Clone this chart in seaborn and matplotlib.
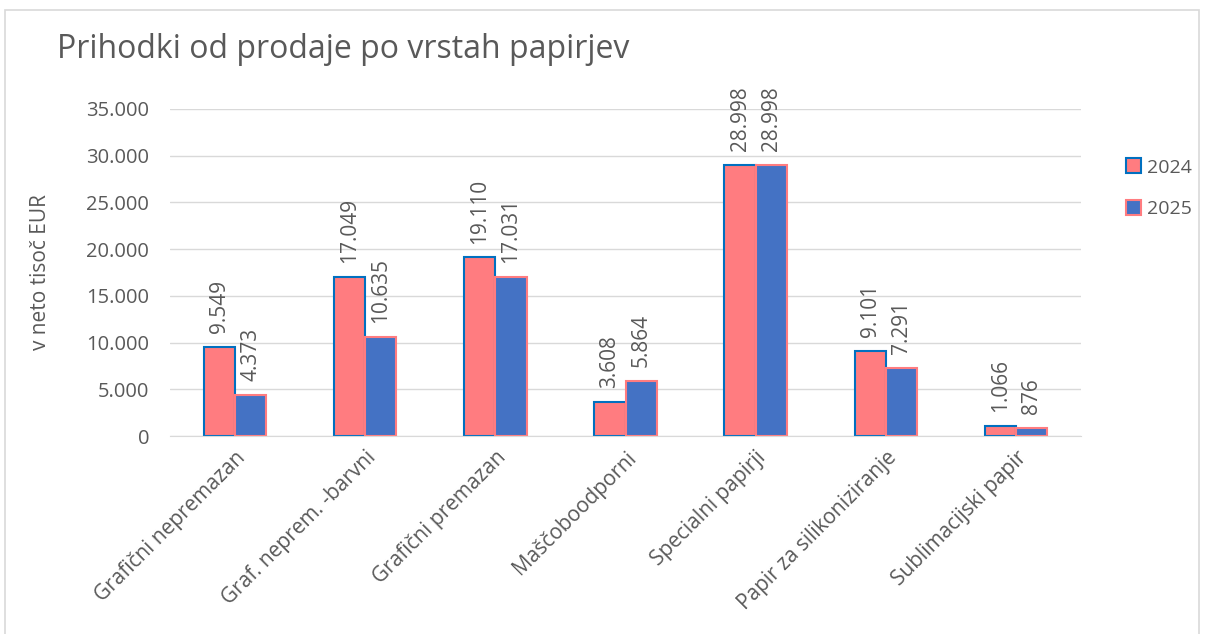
import matplotlib.pyplot as plt
import matplotlib.patches as mpatches
import pandas as pd
import seaborn as sns

categories = [
    "Grafični nepremazan",
    "Graf. neprem. -barvni",
    "Grafični premazan",
    "Maščoboodporni",
    "Specialni papirji",
    "Papir za silikoniziranje",
    "Sublimacijski papir",
]
values_2024 = [9549, 17049, 19110, 3608, 28998, 9101, 1066]
values_2025 = [4373, 10635, 17031, 5864, 28998, 7291, 876]
years = ["2024", "2025"]

fill_colors = {"2024": "#FF7C80", "2025": "#4472C4"}
edge_colors = {"2024": "#0070C0", "2025": "#FF7C80"}
text_color = "#595959"


def fmt(v):
    return f"{int(v):,}".replace(",", ".")


df = pd.DataFrame({
    "category": categories * 2,
    "year": ["2024"] * len(categories) + ["2025"] * len(categories),
    "value": values_2024 + values_2025,
})

sns.set_style("white")
plt.rcParams["font.family"] = ["Open Sans", "DejaVu Sans"]

fig = plt.figure(figsize=(12.06, 6.34), dpi=100)
ax = fig.add_axes([170 / 1206, 1 - 436 / 634, (1081 - 170) / 1206, (436 - 109) / 634])

sns.barplot(
    data=df, x="category", y="value", hue="year", hue_order=years,
    palette=fill_colors, saturation=1, width=0.48, gap=0, ax=ax,
    legend=False, errorbar=None,
)

for container, year in zip(ax.containers, years):
    for bar, v in zip(container, df[df["year"] == year]["value"]):
        bar.set_edgecolor(edge_colors[year])
        bar.set_linewidth(1.5)
        ax.annotate(
            fmt(v),
            (bar.get_x() + bar.get_width() / 2, bar.get_height()),
            xytext=(0, 10), textcoords="offset points",
            rotation=90, ha="center", va="bottom", fontsize=15, color=text_color,
        )

ax.set_ylim(0, 35000)
ax.set_yticks(range(0, 35001, 5000))
ax.set_yticklabels([fmt(t) for t in range(0, 35001, 5000)], fontsize=14.5, color=text_color)
ax.yaxis.grid(True, color="#D9D9D9", linewidth=1)
ax.set_axisbelow(True)
for side in ["top", "right", "left"]:
    ax.spines[side].set_visible(False)
ax.spines["bottom"].set_color("#D9D9D9")
ax.tick_params(axis="y", length=0, pad=15)
ax.tick_params(axis="x", length=0, pad=8)

ax.set_xticks(range(len(categories)))
ax.set_xticklabels(categories, rotation=45, ha="right", rotation_mode="anchor",
                   fontsize=15, color=text_color)
ax.set_xlabel("")
ax.set_ylabel("v neto tisoč EUR", fontsize=15, color=text_color)
ax.yaxis.set_label_coords(-0.131, 0.5)

fig.text(57 / 1206, 1 - 50 / 634, "Prihodki od prodaje po vrstah papirjev",
         fontsize=23, color=text_color, va="center", ha="left")

handles = [
    mpatches.Patch(facecolor=fill_colors[y], edgecolor=edge_colors[y], linewidth=1.5, label=y)
    for y in years
]
fig.legend(handles=handles, loc="upper left", bbox_to_anchor=(1108 / 1206, 1 - 141 / 634),
           frameon=False, fontsize=14, labelcolor=text_color, handlelength=0.8,
           handleheight=0.8, handletextpad=0.3, labelspacing=1.2)

fig.patches.append(mpatches.Rectangle(
    (5 / 1206, -0.01), 1194 / 1206, 1 - 10 / 634 + 0.01,
    transform=fig.transFigure, fill=False, edgecolor="#D9D9D9", linewidth=1.2,
))

fig.savefig("out.png", dpi=100)
